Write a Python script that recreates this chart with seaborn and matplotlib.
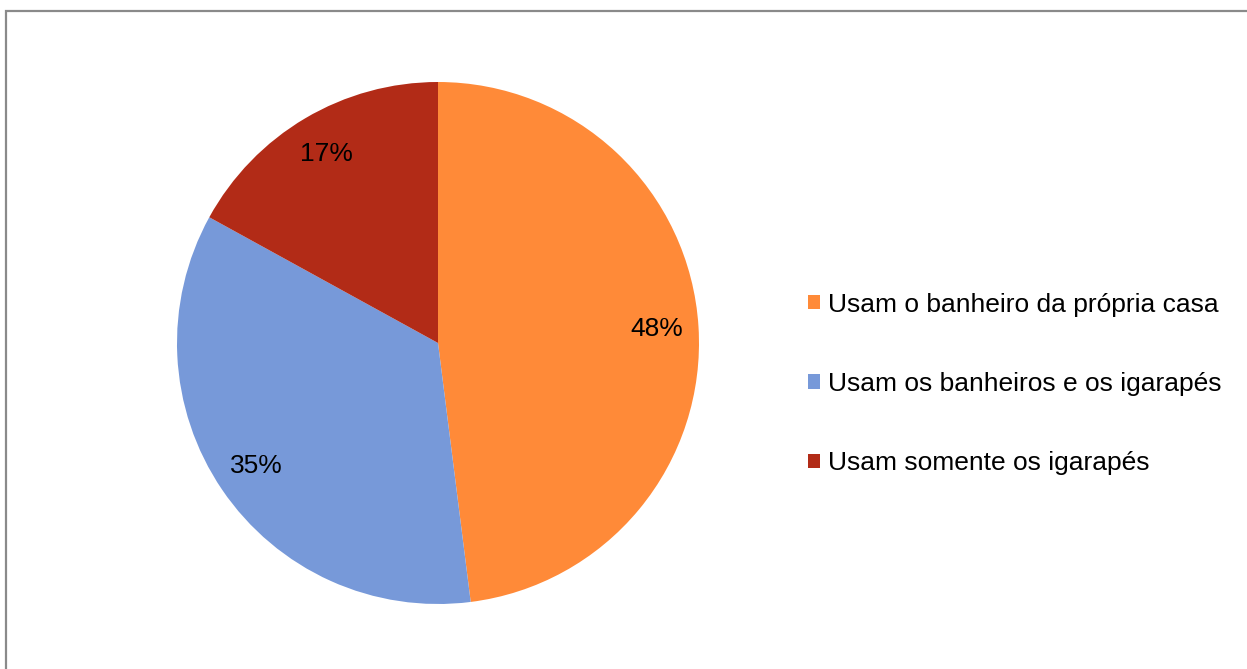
import numpy as np
import seaborn as sns
import matplotlib.pyplot as plt
from matplotlib.patches import Rectangle

# Data
categories = ['Usam o banheiro da própria casa',
              'Usam os banheiros e os igarapés',
              'Usam somente os igarapés']
shares = [48, 35, 17]
colors = sns.color_palette(['#FF8A38', '#7799D9', '#B22B17'])

sns.set_theme(style="white")
plt.rcParams['font.family'] = ['Liberation Sans', 'DejaVu Sans']
plt.rcParams['text.color'] = 'black'

fig = plt.figure(figsize=(12.47, 6.69), dpi=100)
fig.patch.set_facecolor('white')

# gray frame (right and bottom edges run off the picture)
fig.patches.append(Rectangle((6 / 1247, -0.05), 1.2, 1 - 11 / 669 + 0.05,
                             transform=fig.transFigure, fill=False,
                             edgecolor='#8a8a8a', linewidth=1.6))

ax = fig.add_axes([177 / 1247, 65 / 669, 522 / 1247, 522 / 669])
wedges, texts = ax.pie(shares, colors=colors, startangle=90, counterclock=False,
                       wedgeprops=dict(linewidth=0))
for w, s in zip(wedges, shares):
    ang = np.deg2rad((w.theta1 + w.theta2) / 2)
    r = 0.84
    ax.text(r * np.cos(ang), r * np.sin(ang), f'{s}%', ha='center', va='center',
            fontsize=19, color='black')
ax.set_aspect('equal')
ax.set_xlim(-1, 1)
ax.set_ylim(-1, 1)

leg = fig.legend(wedges, categories, loc='center left',
                 bbox_to_anchor=(808 / 1247, 1 - 384 / 669),
                 frameon=False, fontsize=19, handlelength=0.46, handleheight=0.46,
                 handletextpad=0.3, labelspacing=2.1, borderpad=0, borderaxespad=0)
for t in leg.get_texts():
    t.set_color('black')

plt.savefig('out.png', dpi=100)
